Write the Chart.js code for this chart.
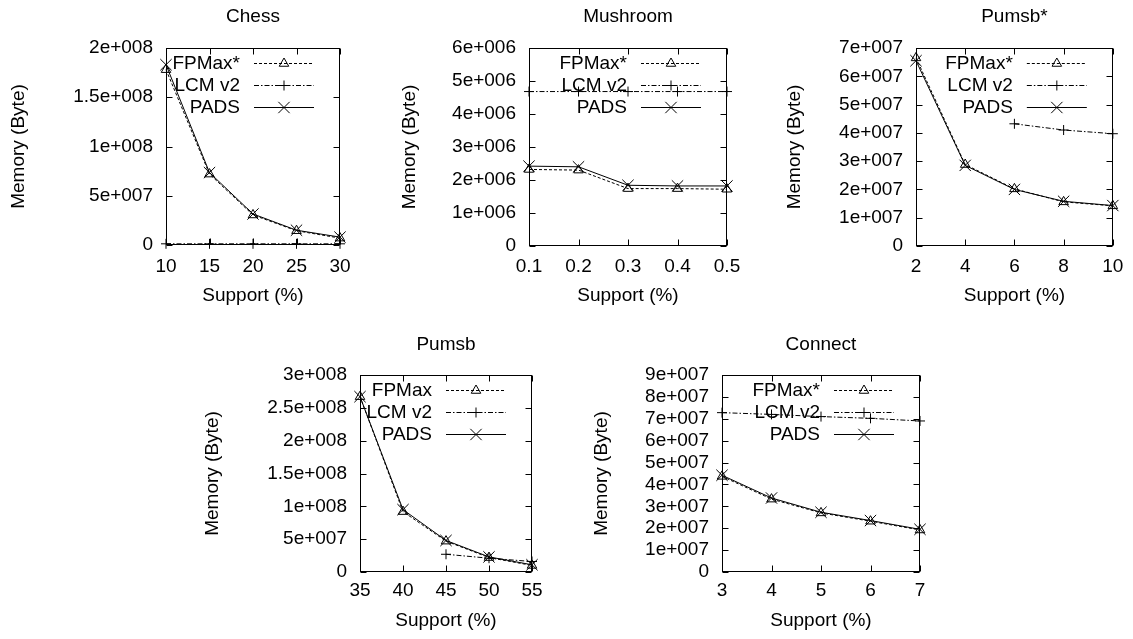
<!DOCTYPE html>
<html><head><meta charset="utf-8">
<script src="https://cdn.jsdelivr.net/npm/chart.js@4/dist/chart.umd.min.js"></script>
<style>
html,body{margin:0;padding:0;background:#fff;}
body{width:1133px;height:639px;position:relative;overflow:hidden;}
canvas{position:absolute;}
</style></head><body>
<canvas id="c0"></canvas><canvas id="c1"></canvas><canvas id="c2"></canvas><canvas id="c3"></canvas><canvas id="c4"></canvas>
<script>
// ---------- data ----------
const seriesNames = ['FPMax*', 'LCM v2', 'PADS'];
const seriesNamesPumsb = ['FPMax', 'LCM v2', 'PADS'];

const chessSupport = [10, 15, 20, 25, 30];
const chessFPMax = [1.78e8, 7.2e7, 3.05e7, 1.45e7, 7.0e6];
const chessLCM   = [1.2e6, 1.2e6, 1.2e6, 1.2e6, 1.2e6];
const chessPADS  = [1.83e8, 7.35e7, 3.15e7, 1.5e7, 8.0e6];
const chessXTicks = [10, 15, 20, 25, 30];
const chessYTicks = [0, 5e7, 1e8, 1.5e8, 2e8];

const mushroomSupport = [0.1, 0.2, 0.3, 0.4, 0.5];
const mushroomFPMax = [2.32e6, 2.3e6, 1.74e6, 1.74e6, 1.72e6];
const mushroomLCM   = [4.68e6, 4.68e6, 4.68e6, 4.68e6, 4.68e6];
const mushroomPADS  = [2.42e6, 2.4e6, 1.84e6, 1.82e6, 1.82e6];
const mushroomXTicks = [0.1, 0.2, 0.3, 0.4, 0.5];
const mushroomYTicks = [0, 1e6, 2e6, 3e6, 4e6, 5e6, 6e6];

const pumsbStarSupport = [2, 4, 6, 8, 10];
const pumsbStarFPMax = [6.65e7, 2.88e7, 2.02e7, 1.56e7, 1.42e7];
const pumsbStarLCM   = [null, null, 4.32e7, 4.1e7, 3.97e7];
const pumsbStarPADS  = [6.55e7, 2.85e7, 2.0e7, 1.58e7, 1.43e7];
const pumsbStarXTicks = [2, 4, 6, 8, 10];
const pumsbStarYTicks = [0, 1e7, 2e7, 3e7, 4e7, 5e7, 6e7, 7e7];

const pumsbSupport = [35, 40, 45, 50, 55];
const pumsbFPMax = [2.67e8, 9.2e7, 4.7e7, 2.2e7, 1.0e7];
const pumsbLCM   = [null, null, 2.7e7, 2.1e7, 1.6e7];
const pumsbPADS  = [2.67e8, 9.5e7, 4.8e7, 2.3e7, 1.1e7];
const pumsbXTicks = [35, 40, 45, 50, 55];
const pumsbYTicks = [0, 5e7, 1e8, 1.5e8, 2e8, 2.5e8, 3e8];

const connectSupport = [3, 4, 5, 6, 7];
const connectFPMax = [4.37e7, 3.33e7, 2.7e7, 2.32e7, 1.92e7];
const connectLCM   = [7.28e7, 7.2e7, 7.1e7, 7.02e7, 6.9e7];
const connectPADS  = [4.42e7, 3.38e7, 2.73e7, 2.35e7, 1.95e7];
const connectXTicks = [3, 4, 5, 6, 7];
const connectYTicks = [0, 1e7, 2e7, 3e7, 4e7, 5e7, 6e7, 7e7, 8e7, 9e7];

// ---------- helpers ----------
const FONT = "'Liberation Sans', Arial, Helvetica, sans-serif";
const FS = 19, LH = FS * 1.2;

function fmtExp(v) {
  if (v === 0) return '0';
  const e = Math.floor(Math.log10(v) + 1e-9);
  const m = Math.round(v / Math.pow(10, e) * 100) / 100;
  return m + 'e+' + String(e).padStart(3, '0');
}

const styles = [
  { pointStyle: 'triangle', radius: 5.5, dash: [3, 2] },
  { pointStyle: 'cross', radius: 5, dash: [5, 2, 1.5, 2] },
  { pointStyle: 'crossRot', radius: 8, dash: [] }
];

function drawMarker(ctx, style, x, y, r) {
  ctx.beginPath();
  if (style === 'triangle') {
    for (let k = 0; k < 3; k++) {
      const a = k * 2 * Math.PI / 3;
      const px = x + Math.sin(a) * r, py = y - Math.cos(a) * r;
      if (k === 0) ctx.moveTo(px, py); else ctx.lineTo(px, py);
    }
    ctx.closePath();
  } else if (style === 'cross') {
    ctx.moveTo(x - r, y); ctx.lineTo(x + r, y);
    ctx.moveTo(x, y - r); ctx.lineTo(x, y + r);
  } else {
    const d = r * Math.SQRT1_2;
    ctx.moveTo(x - d, y - d); ctx.lineTo(x + d, y + d);
    ctx.moveTo(x + d, y - d); ctx.lineTo(x - d, y + d);
  }
  ctx.stroke();
}

const framePlugin = {
  id: 'frame',
  afterDatasetsDraw(chart) {
    const { ctx, chartArea: a, scales: { x, y } } = chart;
    const L = Math.round(a.left) + 0.5, R = Math.round(a.right) - 0.5;
    const T = Math.round(a.top) + 0.5, B = Math.round(a.bottom) - 0.5;
    ctx.save();
    ctx.strokeStyle = '#000'; ctx.lineWidth = 1; ctx.setLineDash([]);
    ctx.strokeRect(L, T, R - L, B - T);
    const tl = 6;
    ctx.beginPath();
    x.ticks.forEach(t => {
      const px = Math.round(x.getPixelForValue(t.value)) + 0.5;
      ctx.moveTo(px, B); ctx.lineTo(px, B - tl);
      ctx.moveTo(px, T); ctx.lineTo(px, T + tl);
    });
    y.ticks.forEach(t => {
      const py = Math.round(y.getPixelForValue(t.value)) + 0.5;
      ctx.moveTo(L, py); ctx.lineTo(L + tl, py);
      ctx.moveTo(R, py); ctx.lineTo(R - tl, py);
    });
    ctx.stroke();
    ctx.restore();
  }
};

const keyPlugin = {
  id: 'gnukey',
  afterDraw(chart) {
    const { ctx, chartArea: a } = chart;
    ctx.save();
    ctx.font = FS + 'px ' + FONT;
    ctx.textAlign = 'right'; ctx.textBaseline = 'middle';
    ctx.fillStyle = '#000'; ctx.strokeStyle = '#000'; ctx.lineWidth = 1;
    chart.data.datasets.forEach((ds, i) => {
      const yy = Math.round(a.top + 15 + i * 22) + 0.5;
      ctx.fillText(ds.label, a.right - 100, yy);
      ctx.setLineDash(ds.borderDash || []);
      ctx.beginPath();
      ctx.moveTo(a.right - 86, yy); ctx.lineTo(a.right - 26, yy);
      ctx.stroke();
      ctx.setLineDash([]);
      drawMarker(ctx, ds.pointStyle, a.right - 56, yy, ds.pointRadius);
    });
    ctx.restore();
  }
};

function makePanel(id, geo, title, names, xs, series, xTicks, yTicks, xFmt) {
  const cv = document.getElementById(id);
  cv.style.left = geo.cx + 'px'; cv.style.top = geo.cy + 'px';
  cv.width = geo.cw; cv.height = geo.ch;
  cv.style.width = geo.cw + 'px'; cv.style.height = geo.ch + 'px';
  const bottomEdge = geo.cy + geo.ch;
  const titlePadTop = geo.titleY - geo.cy - LH / 2;
  const titlePadBottom = geo.T - geo.cy - LH - titlePadTop;
  const datasets = series.map((vals, i) => ({
    label: names[i],
    data: xs.map((xv, k) => ({ x: xv, y: vals[k] })),
    borderColor: '#000',
    backgroundColor: 'rgba(0,0,0,0)',
    borderWidth: 1,
    borderDash: styles[i].dash,
    pointStyle: styles[i].pointStyle,
    pointRadius: styles[i].radius,
    pointBorderWidth: 1,
    pointBorderColor: '#000',
    pointBackgroundColor: 'rgba(0,0,0,0)',
    tension: 0,
    spanGaps: false,
    clip: false
  }));
  return new Chart(cv, {
    type: 'line',
    data: { datasets },
    options: {
      responsive: false,
      animation: false,
      events: [],
      layout: { padding: { left: 0, top: 0, bottom: 0, right: geo.cx + geo.cw - geo.R } },
      plugins: {
        legend: { display: false },
        tooltip: { enabled: false },
        title: {
          display: true, text: title, color: '#000', fullSize: false,
          font: { family: FONT, size: FS, weight: 'normal', lineHeight: 1.2 },
          padding: { top: titlePadTop, bottom: titlePadBottom }
        }
      },
      scales: {
        x: {
          type: 'linear', position: 'bottom',
          min: xTicks[0], max: xTicks[xTicks.length - 1],
          afterBuildTicks: s => { s.ticks = xTicks.map(v => ({ value: v })); },
          afterFit: s => { s.height = bottomEdge - geo.B; },
          grid: { display: false, drawTicks: false },
          border: { display: false },
          ticks: {
            color: '#000', padding: geo.xLabelY - geo.B - LH / 2, maxRotation: 0,
            autoSkip: false,
            font: { family: FONT, size: FS, lineHeight: 1.2 },
            callback: v => xFmt ? xFmt(v) : String(v)
          },
          title: {
            display: true, text: 'Support (%)', color: '#000',
            font: { family: FONT, size: FS, lineHeight: 1.2 },
            padding: { top: 0, bottom: bottomEdge - geo.xTitleY - LH / 2 }
          }
        },
        y: {
          type: 'linear', position: 'left',
          min: yTicks[0], max: yTicks[yTicks.length - 1],
          afterBuildTicks: s => { s.ticks = yTicks.map(v => ({ value: v })); },
          afterFit: s => { s.width = geo.L - geo.cx; },
          grid: { display: false, drawTicks: false },
          border: { display: false },
          ticks: {
            color: '#000', padding: 13, autoSkip: false,
            font: { family: FONT, size: FS, lineHeight: 1.2 },
            callback: v => fmtExp(v)
          },
          title: {
            display: true, text: 'Memory (Byte)', color: '#000',
            font: { family: FONT, size: FS, lineHeight: 1.2 },
            padding: { top: geo.yTitleX - geo.cx - LH / 2, bottom: 0 }
          }
        }
      }
    },
    plugins: [framePlugin, keyPlugin]
  });
}

const top1 = { titleY: 17, xLabelY: 267, xTitleY: 296, T: 48 };
const top2 = { titleY: 345, xLabelY: 591, xTitleY: 621, T: 375 };

makePanel('c0', Object.assign({ cx: 0, cy: 0, cw: 365, ch: 315, L: 166, R: 340, B: 245, yTitleX: 19 }, top1),
  'Chess', seriesNames, chessSupport, [chessFPMax, chessLCM, chessPADS], chessXTicks, chessYTicks);
makePanel('c1', Object.assign({ cx: 365, cy: 0, cw: 385, ch: 315, L: 529, R: 727, B: 246, yTitleX: 410 }, top1),
  'Mushroom', seriesNames, mushroomSupport, [mushroomFPMax, mushroomLCM, mushroomPADS], mushroomXTicks, mushroomYTicks, v => v.toFixed(1));
makePanel('c2', Object.assign({ cx: 750, cy: 0, cw: 383, ch: 315, L: 916, R: 1113, B: 246, yTitleX: 795 }, top1),
  'Pumsb*', seriesNames, pumsbStarSupport, [pumsbStarFPMax, pumsbStarLCM, pumsbStarPADS], pumsbStarXTicks, pumsbStarYTicks);
makePanel('c3', Object.assign({ cx: 190, cy: 318, cw: 365, ch: 321, L: 360, R: 532, B: 572, yTitleX: 213 }, top2),
  'Pumsb', seriesNamesPumsb, pumsbSupport, [pumsbFPMax, pumsbLCM, pumsbPADS], pumsbXTicks, pumsbYTicks);
makePanel('c4', Object.assign({ cx: 555, cy: 318, cw: 390, ch: 321, L: 722, R: 920, B: 572, yTitleX: 602 }, top2),
  'Connect', seriesNames, connectSupport, [connectFPMax, connectLCM, connectPADS], connectXTicks, connectYTicks);
</script>
</body></html>
